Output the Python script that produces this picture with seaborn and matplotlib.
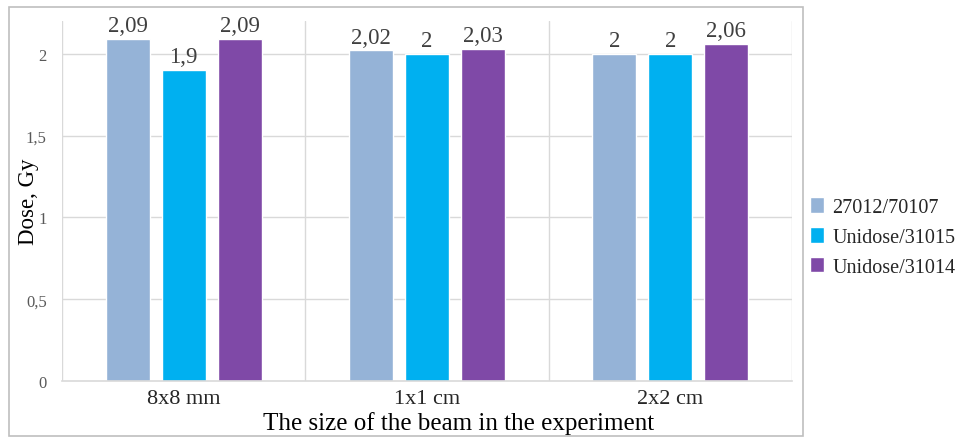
import matplotlib
matplotlib.use("Agg")
import matplotlib.pyplot as plt
import seaborn as sns
import pandas as pd
from matplotlib.patches import Rectangle

categories = ["8x8 mm", "1x1 cm", "2x2 cm"]
series_names = ["27012/70107", "Unidose/31015", "Unidose/31014"]
vals_27012 = [2.09, 2.02, 2.0]
vals_31015 = [1.9, 2.0, 2.0]
vals_31014 = [2.09, 2.03, 2.06]
colors = ["#95B3D7", "#00B0F0", "#7F49A7"]
yticks = [0, 0.5, 1, 1.5, 2]

rows = []
for name, vals in zip(series_names, [vals_27012, vals_31015, vals_31014]):
    for c, v in zip(categories, vals):
        rows.append({"Beam": c, "Series": name, "Dose": v})
df = pd.DataFrame(rows)

sns.set_theme(style="white")
plt.rcParams["font.family"] = ["Liberation Serif", "DejaVu Serif"]

fig = plt.figure(figsize=(9.58, 4.39), dpi=100)
ax = fig.add_axes([62/958, 1-382/439, (792-62)/958, (382-22)/439])

sns.barplot(data=df, x="Beam", y="Dose", hue="Series", order=categories,
            hue_order=series_names, palette=colors, width=0.69, gap=0.21,
            saturation=1, ax=ax, legend=True, errorbar=None)

ax.set_xlim(-0.5, 2.5)
ax.set_ylim(0, 2.2)
ax.set_yticks(yticks)
ax.set_yticklabels([f"{t:g}".replace(".", ",") for t in yticks], color="#595959", fontsize=12)
ax.tick_params(axis="y", length=0, pad=11)
ax.tick_params(axis="x", length=0, pad=6, labelsize=16, colors="#262626")

# gridlines
for y in yticks[1:]:
    ax.axhline(y, color="#D9D9D9", lw=1, zorder=0)
for x in [-0.5, 0.5, 1.5, 2.5]:
    ax.axvline(x, color="#D9D9D9", lw=1, zorder=0)
for s in ["top", "right", "left"]:
    ax.spines[s].set_visible(False)
ax.spines["bottom"].set_color("#D9D9D9")
ax.spines["bottom"].set_linewidth(1.2)

for cont in ax.containers:
    labels = [f"{b.get_height():g}".replace(".", ",") for b in cont]
    ax.bar_label(cont, labels=labels, padding=2, fontsize=16.5, color="#404040")

ax.set_xlabel("The size of the beam in the experiment", fontsize=18, color="#000000", va="center")
ax.xaxis.set_label_coords((459-62)/730, (382-424)/360)
ax.set_ylabel("Dose, Gy", fontsize=16.5, color="#000000", va="center")
ax.yaxis.set_label_coords((29-62)/730, 0.5)

handles, labels = ax.get_legend_handles_labels()
ax.legend(handles, labels, loc="center left", bbox_to_anchor=(802/958, 1-238/439),
          bbox_transform=fig.transFigure, frameon=False, fontsize=14.5,
          handlelength=0.7, handleheight=0.8, handletextpad=0.4, labelspacing=0.5,
          borderaxespad=0, borderpad=0.4)

fig.add_artist(Rectangle((9/958, 1-437/439), (803-9)/958, (437-8)/439,
                         transform=fig.transFigure, fill=False, edgecolor="#BFBFBF", lw=1.2))

fig.savefig("out.png", dpi=100)
